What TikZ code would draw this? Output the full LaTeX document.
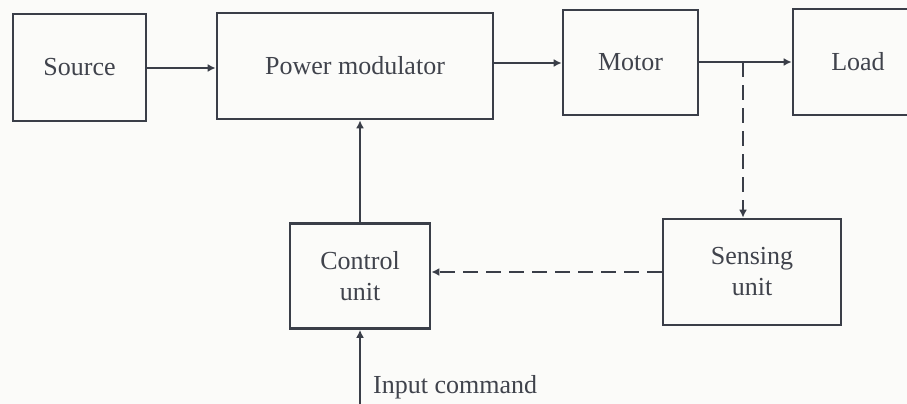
\documentclass[tikz,border=0pt]{standalone}
\usepackage{fontspec}
\setmainfont{Liberation Serif}
\usetikzlibrary{arrows.meta}
\definecolor{ink}{HTML}{3A3E48}
\definecolor{txt}{HTML}{40434C}
\definecolor{paper}{HTML}{FBFBF9}
\begin{document}
\begin{tikzpicture}[x=1pt,y=-1pt,
  blk/.style={draw=ink, line width=2.7pt, inner sep=0pt, text=txt,
    font=\fontsize{26}{31}\selectfont, align=center},
  conn/.style={draw=ink, line width=2.4pt, -{Latex[length=8pt,width=8pt]}},
  dconn/.style={conn, dash pattern=on 15pt off 8pt}]
\fill[paper] (0,0) rectangle (907,404);
\useasboundingbox (0,0) rectangle (907,404);
\clip (0,0) rectangle (907,404);
\node[blk, minimum width=133pt, minimum height=107pt] (src) at (79.5,67.5) {Source};
\node[blk, minimum width=276pt, minimum height=106pt] (pm) at (355,66) {Power modulator};
\node[blk, minimum width=135pt, minimum height=105pt] (mot) at (630.5,62.5) {Motor};
\node[blk, minimum width=130pt, minimum height=106pt] (load) at (858,62) {Load};
\node[blk, minimum width=140pt, minimum height=105pt] (ctl) at (360,276) {Control\\unit};
\node[blk, minimum width=178pt, minimum height=106pt] (sen) at (752,272) {Sensing\\unit};
\coordinate (tap) at (743,62);
\coordinate (inp) at (360,404);
\draw[conn] (src.east |- 0,68) -- (pm.west |- 0,68);
\draw[conn] (pm.east |- 0,63) -- (mot.west |- 0,63);
\draw[conn] (mot.east |- 0,62) -- (load.west |- 0,62);
\draw[dconn] (tap) -- (tap |- sen.north);
\draw[dconn] (sen.west |- 0,272) -- (ctl.east |- 0,272);
\draw[conn] (ctl.north) -- (pm.south -| ctl.north);
\draw[conn] (inp) -- (ctl.south);
\node[anchor=west, text=txt, font=\fontsize{26}{31}\selectfont, inner sep=0pt] (ic) at (373,387) {Input command};
\end{tikzpicture}
\end{document}
